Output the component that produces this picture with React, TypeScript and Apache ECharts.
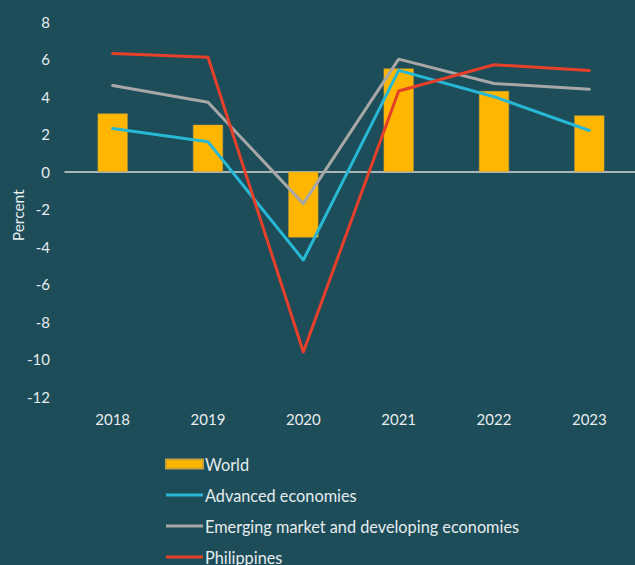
import React, { useEffect, useRef } from "react";
import * as echarts from "echarts";

const years = ["2018", "2019", "2020", "2021", "2022", "2023"];
const world = [3.1, 2.5, -3.5, 5.5, 4.3, 3.0];
const advanced = [2.3, 1.6, -4.7, 5.4, 4.0, 2.2];
const emerging = [4.6, 3.7, -1.7, 6.0, 4.7, 4.4];
const philippines = [6.3, 6.1, -9.6, 4.3, 5.7, 5.4];

const BG = "#1d4d59";
const TXT = "#e6ecee";
const FONT = "Lato";
const LINE_ICON = "path://M0,0 M37,9 M0,3 L37,3 L37,6 L0,6 Z";

export default function App() {
  const ref = useRef<HTMLDivElement>(null);
  useEffect(() => {
    if (!ref.current) return;
    const chart = echarts.init(ref.current, undefined, { renderer: "svg" });
    const lineSeries = (name: string, data: number[], color: string) => ({
      name,
      type: "line",
      data,
      symbol: "none",
      lineStyle: { color, width: 3, cap: "round", join: "round" },
      itemStyle: { color },
      z: 3,
    });
    chart.setOption({
      animation: false,
      backgroundColor: BG,
      textStyle: { fontFamily: FONT },
      grid: {
        left: 65,
        top: 21.6,
        width: 572,
        height: 375.4,
        containLabel: false,
        outerBoundsMode: "none",
      },
      xAxis: {
        type: "category",
        data: years,
        axisLine: { show: true, onZero: true, lineStyle: { color: "#d8d8d8", width: 1.5 } },
        axisTick: { show: false },
        axisLabel: { color: TXT, fontSize: 15, fontFamily: FONT, margin: 14 },
        splitLine: { show: false },
      },
      yAxis: {
        type: "value",
        min: -12,
        max: 8,
        interval: 2,
        name: "Percent",
        nameLocation: "middle",
        nameRotate: 90,
        nameGap: 39,
        nameMoveOverlap: false,
        nameTextStyle: { color: TXT, fontSize: 15.5, fontFamily: FONT, padding: [0, 12, 0, 0] },
        axisLine: { show: false },
        axisTick: { show: false },
        splitLine: { show: false },
        axisLabel: { color: TXT, fontSize: 15, fontFamily: FONT, margin: 15 },
      },
      legend: {
        orient: "vertical",
        left: 165,
        top: 456,
        height: 130,
        padding: 0,
        itemWidth: 37,
        itemHeight: 9,
        itemGap: 15,
        textStyle: { color: TXT, fontSize: 16.3, fontFamily: FONT, padding: [0, 0, 0, -3], lineHeight: 16 },
        data: [
          { name: "World", icon: "rect" },
          { name: "Advanced economies", icon: LINE_ICON },
          { name: "Emerging market and developing economies", icon: LINE_ICON },
          { name: "Philippines", icon: LINE_ICON },
        ],
      },
      series: [
        {
          name: "World",
          type: "bar",
          data: world,
          barWidth: 30,
          itemStyle: { color: "#ffb600", borderColor: "#c9a13a", borderWidth: 0.5 },
          z: 2,
        },
        lineSeries("Advanced economies", advanced, "#27b8d6"),
        lineSeries("Emerging market and developing economies", emerging, "#a7a7a7"),
        lineSeries("Philippines", philippines, "#e5402a"),
      ],
    });
    return () => chart.dispose();
  }, []);
  return <div ref={ref} style={{ width: 635, height: 565, position: "absolute", left: 0, top: 0 }} />;
}
